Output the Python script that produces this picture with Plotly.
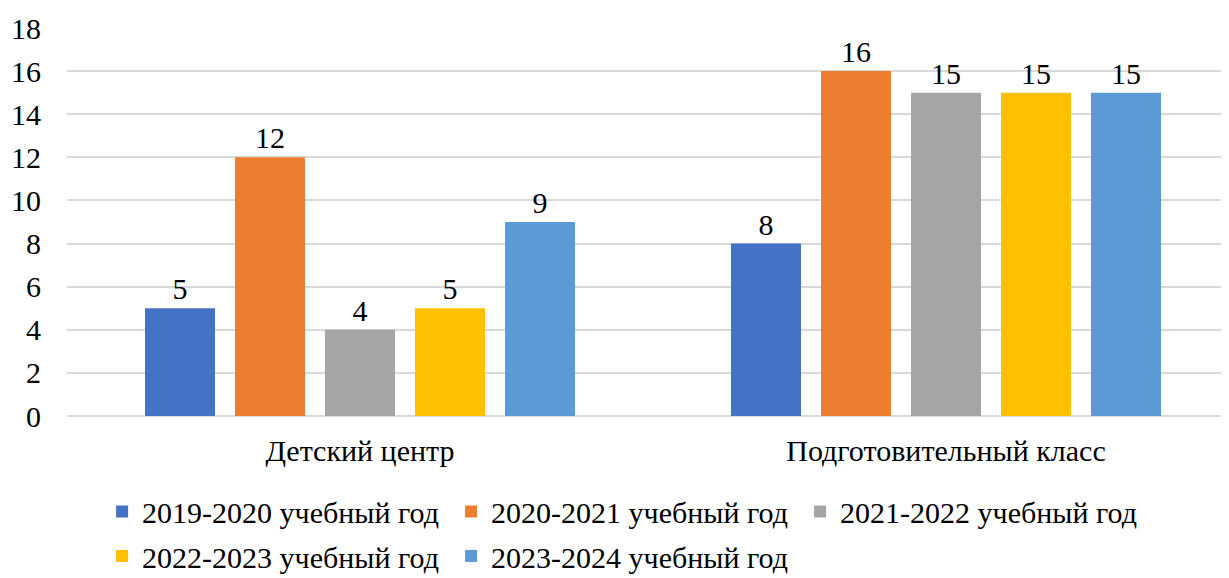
import plotly.graph_objects as go

categories = ["Детский центр", "Подготовительный класс"]
series_names = [
    "2019-2020 учебный год",
    "2020-2021 учебный год",
    "2021-2022 учебный год",
    "2022-2023 учебный год",
    "2023-2024 учебный год",
]
v_2019 = [5, 8]
v_2020 = [12, 16]
v_2021 = [4, 15]
v_2022 = [5, 15]
v_2023 = [9, 15]
colors = ["#4472C4", "#ED7D31", "#A5A5A5", "#FFC000", "#5B9BD5"]
legend_rows = ["legend", "legend", "legend", "legend2", "legend2"]
y_ticks = [0, 2, 4, 6, 8, 10, 12, 14, 16, 18]

FONT = "'Liberation Serif', 'Times New Roman', Times, serif"
FS = 30
fig = go.Figure()
for name, vals, col, lg in zip(series_names, [v_2019, v_2020, v_2021, v_2022, v_2023], colors, legend_rows):
    fig.add_trace(go.Bar(
        x=categories, y=vals, name=name, legend=lg,
        marker=dict(color=col, line=dict(width=0)),
        text=[str(v) for v in vals], textposition="outside",
        textfont=dict(family=FONT, size=FS, color="#000000"),
        cliponaxis=False,
    ))

legend_common = dict(
    orientation="h", x=0.03, xanchor="left",
    yref="container", yanchor="middle",
    font=dict(family=FONT, size=FS, color="#000000"),
    entrywidth=304, entrywidthmode="pixels",
    itemclick=False, bgcolor="rgba(0,0,0,0)",
)
fig.update_layout(
    width=1229, height=578,
    margin=dict(l=59, r=0, t=20, b=170, autoexpand=False),
    paper_bgcolor="white", plot_bgcolor="white",
    barmode="group", bargap=0.232, bargroupgap=0.222,
    font=dict(family=FONT, size=FS, color="#000000"),
    showlegend=True,
    legend=dict(legend_common, y=0.129),
    legend2=dict(legend_common, y=0.052),
)
fig.update_xaxes(
    range=[-0.5, 1.4966], showgrid=False, showline=False, ticks="",
    tickfont=dict(family=FONT, size=FS, color="#000000"),
    ticklabelstandoff=14,
)
fig.update_yaxes(
    range=[0, 18], tickvals=y_ticks, showgrid=True, gridcolor="#D9D9D9", gridwidth=1.5,
    zeroline=True, zerolinecolor="#D9D9D9", zerolinewidth=1.5, showline=False, ticks="",
    tickfont=dict(family=FONT, size=FS, color="#000000"),
    ticklabelstandoff=25,
)
fig.write_html("out.html")
